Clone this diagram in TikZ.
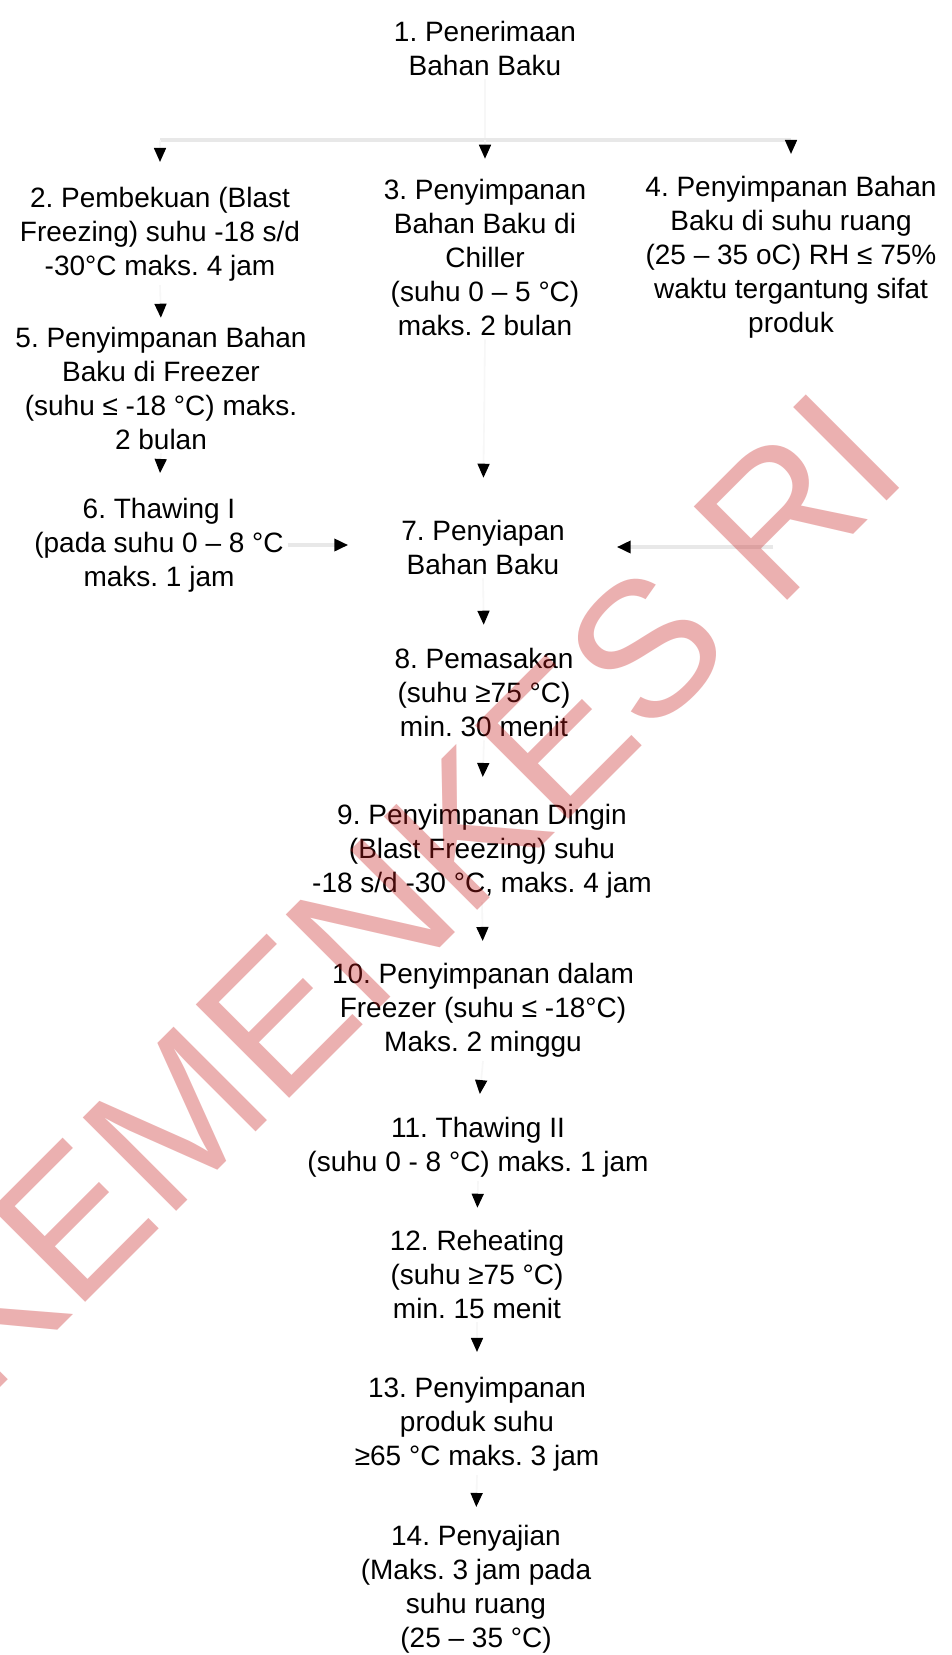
\documentclass[tikz,border=0pt]{standalone}
\usepackage{fontspec}
\setmainfont{Liberation Sans}
\usetikzlibrary{arrows.meta}
\definecolor{wmred}{RGB}{200,30,30}
\frenchspacing
\begin{document}
\begin{tikzpicture}[x=0.5pt,y=-0.5pt,
  box/.style={align=center, font=\fontsize{14}{17}\selectfont, inner xsep=2pt, inner ysep=2pt, outer sep=0pt},
  conn/.style={draw=black!3, line width=0.8pt, -{Triangle[length=7pt,width=6pt,color=black]}, shorten >=#1},
  conn/.default=10pt,
  hconn/.style={draw=black!9, line width=2pt, -{Triangle[length=7pt,width=6pt,color=black]}, shorten >=#1},
  hconn/.default=24pt,
  plain/.style={draw=black!9, line width=2pt},
  wm/.style={anchor=base, rotate=45, text=wmred, text opacity=0.35, inner sep=0pt, font=\fontsize{96}{96}\selectfont}]
\fill[white] (0,0) rectangle (952,1655);
\useasboundingbox (0,0) rectangle (952,1655);

\node[box] (n1) at (485,48) {1. Penerimaan\\Bahan Baku};
\node[box] (n2) at (160,234) {2. Pembekuan (Blast\\Freezing) suhu -18 s/d\\-30°C maks. 4 jam};
\node[box] (n3) at (485,257) {3. Penyimpanan\\Bahan Baku di\\Chiller\\(suhu 0 – 5 °C)\\maks. 2 bulan};
\node[box] (n4) at (791,257) {4. Penyimpanan Bahan\\Baku di suhu ruang\\(25 – 35 oC) RH ≤ 75\%\\waktu tergantung sifat\\produk};
\node[box] (n5) at (161,388) {5. Penyimpanan Bahan\\Baku di Freezer\\(suhu ≤ -18 °C) maks.\\2 bulan};
\node[box] (n6) at (159,545) {6. Thawing I\\(pada suhu 0 – 8 °C\\maks. 1 jam};
\node[box] (n7) at (483,547) {7. Penyiapan\\Bahan Baku};
\node[box] (n8) at (484,692) {8. Pemasakan\\(suhu ≥75 °C)\\min. 30 menit};
\node[box] (n9) at (482,851) {9. Penyimpanan Dingin\\(Blast Freezing) suhu\\-18 s/d -30 °C, maks. 4 jam};
\node[box] (n10) at (483,1010) {10. Penyimpanan dalam\\Freezer (suhu ≤ -18°C)\\Maks. 2 minggu};
\node[box] (n11) at (478,1147) {11. Thawing II\\(suhu 0 - 8 °C) maks. 1 jam};
\node[box] (n12) at (477,1274) {12. Reheating\\(suhu ≥75 °C)\\min. 15 menit};
\node[box] (n13) at (477,1424) {13. Penyimpanan\\produk suhu\\≥65 °C maks. 3 jam};
\node[box] (n14) at (476,1589) {14. Penyajian\\(Maks. 3 jam pada\\suhu ruang\\(25 – 35 °C)};

\coordinate (split) at (485,140);
\coordinate (c4) at (773,547);

\draw[conn=0pt, -] (n1.south) -- (split);
\draw[plain] (split) -- (split -| n2.north);
\draw[plain] (split) -- (split -| n4.north);
\draw[conn=10.5pt] (split -| n2.north) -- (n2.north);
\draw[conn=8pt] (split) -- (n3.north);
\draw[conn=9pt] (split -| n4.north) -- (n4.north);
\draw[conn=2.5pt] (n2.south) -- (n5.north);
\draw[conn=10.5pt] (n5.south) -- (n6.north);
\draw[conn=19pt] (n3.south) -- (n7.north);
\draw[hconn=24.5pt] (n6.east) -- (n7.west |- n6.east);
\draw[hconn=24pt] (c4) -- (n7.east |- c4);
\draw[conn=9.5pt] (n7.south) -- (n8.north);
\draw[conn=11.5pt] (n8.south) -- (n9.north);
\draw[conn=9pt] (n9.south) -- (n10.north);
\draw[conn=9.5pt] (n10.south) -- (n11.north);
\draw[conn=9pt] (n11.south) -- (n12.north);
\draw[conn=10.5pt] (n12.south) -- (n13.north);
\draw[conn=7pt] (n13.south) -- (n14.north);

\node[wm] (wmk) at (448,940) {KEMENKES RI};
\end{tikzpicture}
\end{document}
